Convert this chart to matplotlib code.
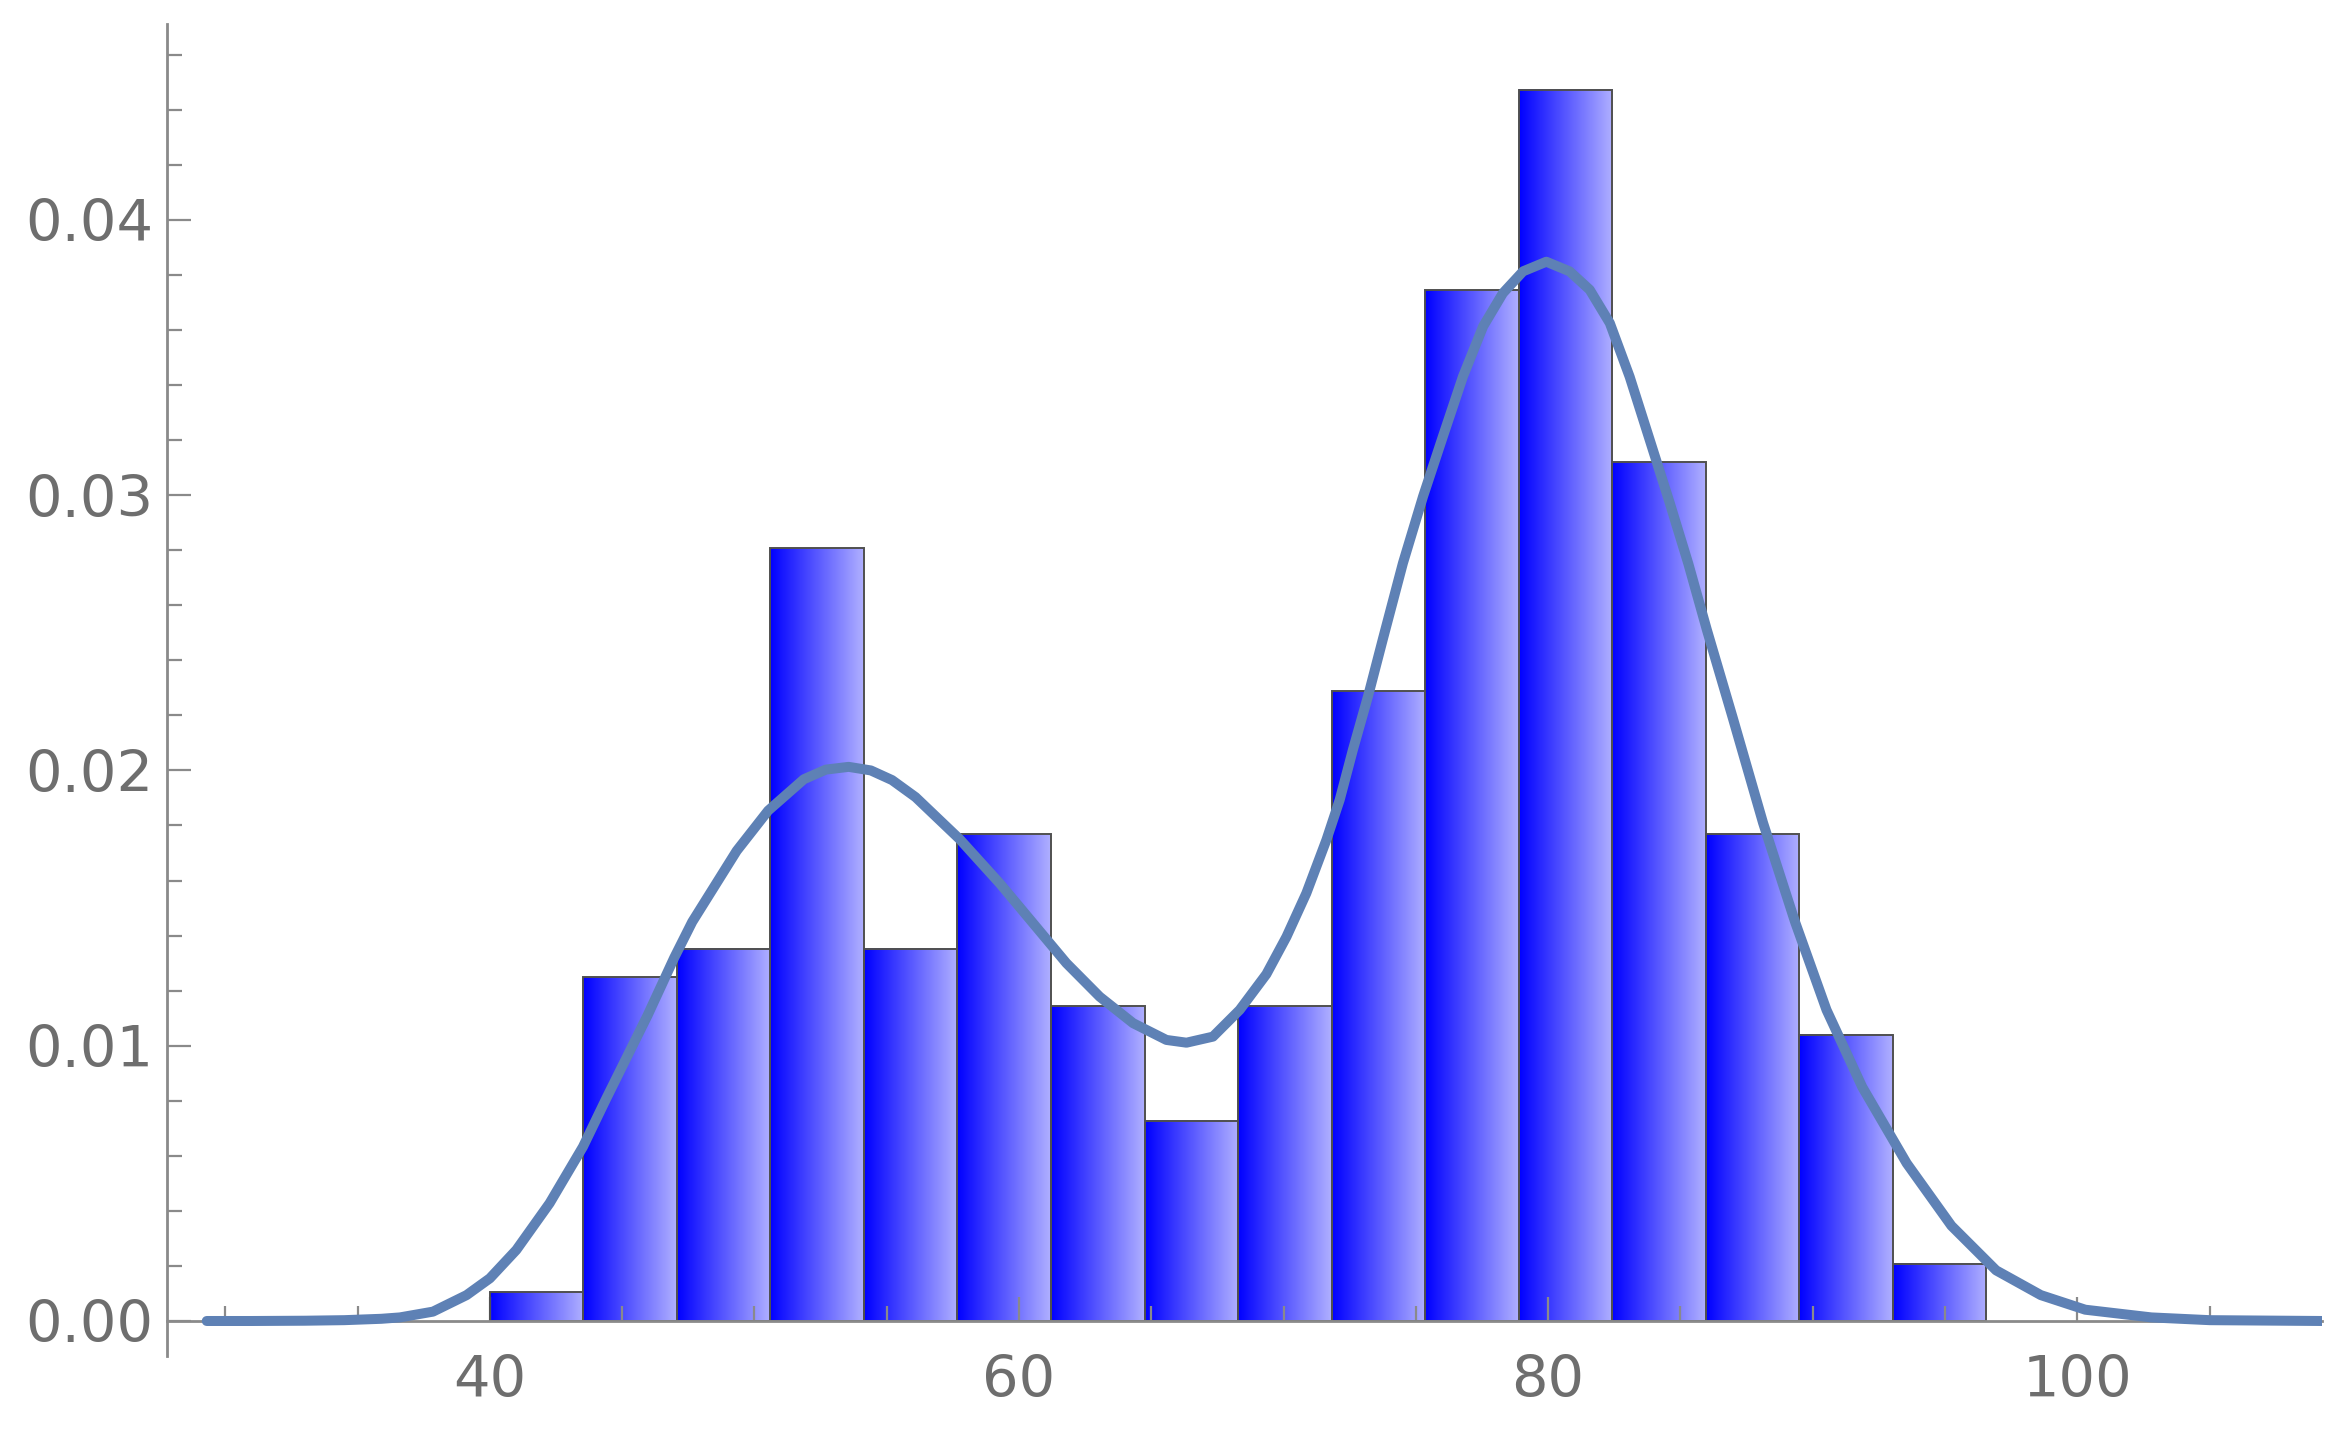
import numpy as np
import matplotlib
matplotlib.use('Agg')
import matplotlib.pyplot as plt
from matplotlib.colors import LinearSegmentedColormap

# histogram bins
bin_left = 40.0
bin_width = 3.535
counts = [1, 12, 13, 27, 13, 17, 11, 7, 11, 22, 36, 43, 30, 17, 10, 2]

# smooth density curve
curve_x = [29.3, 31.0, 33.0, 34.5, 35.9, 36.6, 37.85, 39.12, 40.0, 41.0,
           42.26, 43.52, 44.41, 45.96, 46.97, 47.65, 49.33, 50.52, 51.87, 52.7,
           53.56, 54.4, 55.2, 56.09, 57.77, 59.27, 60.53, 61.79, 63.05, 64.31,
           65.57, 66.33, 67.33, 68.34, 69.35, 70.11, 70.86, 71.62, 72.12, 72.62,
           73.19, 73.76, 74.51, 75.27, 76.02, 76.78, 77.54, 78.29, 79.05, 79.93,
           80.81, 81.57, 82.33, 83.08, 83.84, 84.6, 85.3, 86.0, 86.98, 88.12,
           89.33, 90.52, 91.87, 93.55, 95.24, 96.93, 98.62, 100.3, 102.8, 105.0,
           109.25]
curve_y = [0.0, 0.0, 0.00001, 0.00003, 0.00008, 0.00013, 0.00034, 0.00094, 0.00155, 0.00258,
           0.00428, 0.00633, 0.0081, 0.0111, 0.0132, 0.0145, 0.01708, 0.01854, 0.01968, 0.02003,
           0.02013, 0.02, 0.01965, 0.01903, 0.01749, 0.0159, 0.01445, 0.0130, 0.01178, 0.01082,
           0.01021, 0.01011, 0.01033, 0.0113, 0.0126, 0.01396, 0.01554, 0.01748, 0.01893, 0.02075,
           0.02269, 0.0248, 0.02753, 0.02995, 0.03213, 0.03431, 0.03613, 0.03734, 0.03813, 0.03848,
           0.03813, 0.03746, 0.03625, 0.0343, 0.0320, 0.0297, 0.0275, 0.0251, 0.0219, 0.0181,
           0.0145, 0.0113, 0.0085, 0.00573, 0.00346, 0.00184, 0.00094, 0.00041, 0.00013, 0.00003,
           0.0]

x_major = [40, 60, 80, 100]
x_labels = ['40', '60', '80', '100']
y_major = [0.00, 0.01, 0.02, 0.03, 0.04]
y_labels = ['0.00', '0.01', '0.02', '0.03', '0.04']

fig = plt.figure(figsize=(11.65, 7.185), dpi=200)
ax = fig.add_axes([0.0717, 0.0564, 0.9249, 0.9266])

edges = bin_left + bin_width * np.arange(len(counts))
density = np.array(counts) / (sum(counts) * bin_width)

# bar outlines, then a left-to-right blue gradient inside each one
bars = ax.bar(edges, density, width=bin_width, align='edge', facecolor='none',
              edgecolor='#505050', linewidth=0.7, zorder=2)
cmap = LinearSegmentedColormap.from_list('bluegrad', ['#0000ff', '#b0b0ff'])
grad = np.linspace(0, 1, 256).reshape(1, -1)
for b in bars:
    x0, w, h = b.get_x(), b.get_width(), b.get_height()
    ax.imshow(grad, cmap=cmap, extent=[x0, x0 + w, 0, h], aspect='auto',
              interpolation='bilinear', zorder=1)

ax.plot(curve_x, curve_y, color='#5E81B5', lw=3.6, zorder=3,
        solid_capstyle='round', solid_joinstyle='round')

ax.set_xlim(27.8, 109.25)
ax.set_ylim(-0.00127, 0.0471)

for s in ['top', 'right']:
    ax.spines[s].set_visible(False)
ax.spines['bottom'].set_position(('data', 0))
for s in ['left', 'bottom']:
    ax.spines[s].set_color('#8a8a8a')
    ax.spines[s].set_linewidth(1.0)

ax.set_xticks(x_major)
ax.set_xticklabels(x_labels)
ax.set_xticks(np.arange(30, 110, 5), minor=True)
ax.set_yticks(y_major)
ax.set_yticklabels(y_labels)
ax.set_yticks(np.arange(0, 0.047, 0.002), minor=True)

ax.tick_params(which='both', direction='in', color='#8a8a8a', width=0.8,
               labelcolor='#6e6e6e', labelsize=20.7)
ax.tick_params(which='major', length=8.6)
ax.tick_params(which='minor', length=5.4)
ax.tick_params(axis='x', which='major', pad=12)
ax.tick_params(axis='y', which='major', pad=5)
for lab in ax.get_xticklabels() + ax.get_yticklabels():
    lab.set_fontfamily('DejaVu Sans')

fig.savefig('out.png', dpi=200)
